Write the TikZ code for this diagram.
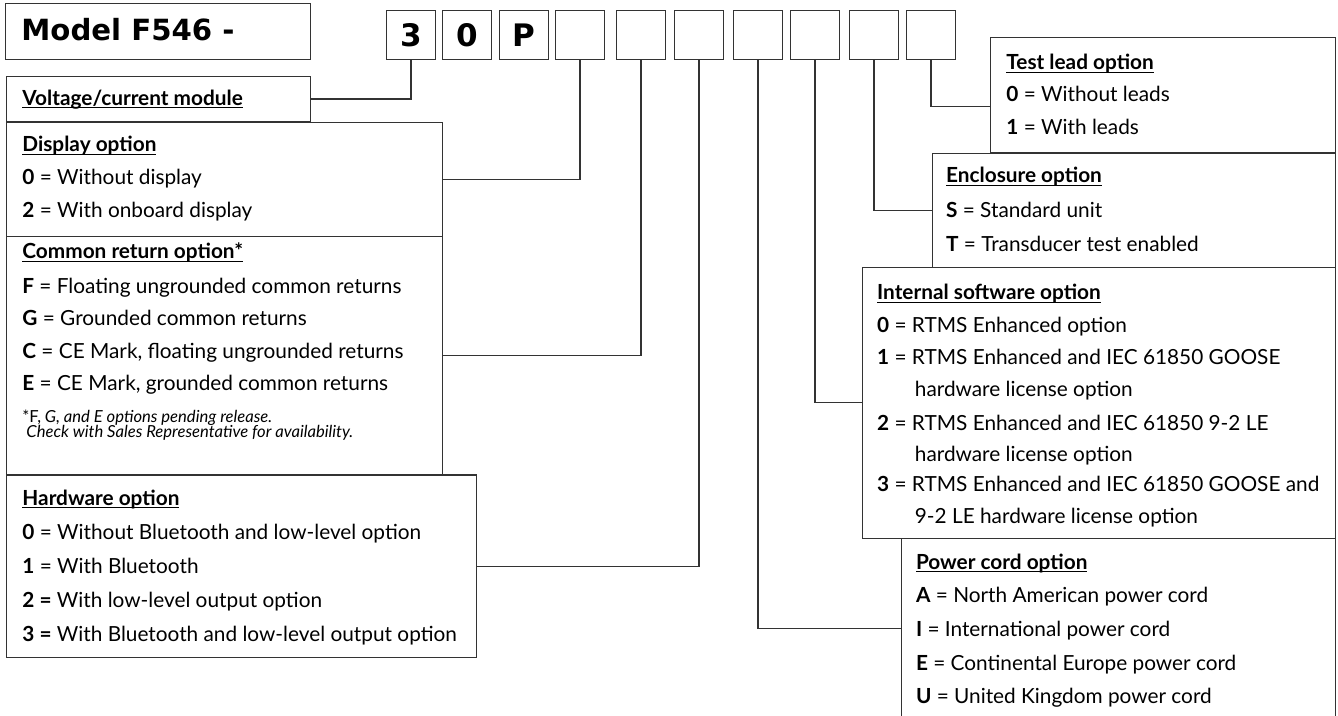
\documentclass[tikz,border=0pt]{standalone}
\usepackage{fontspec}
\setmainfont{Lato}
\newfontfamily\heavyfont{DejaVu Sans}
\usetikzlibrary{positioning}

\newcommand\headul[1]{\setbox0\hbox{#1}\rlap{\rule[-1.4pt]{\wd0}{0.6pt}}\box0}

\tikzset{
  frame/.style 2 args={draw=black!80, line width=0.6pt, inner sep=0pt, anchor=north west,
    minimum width=#1*0.5pt, minimum height=#2*0.5pt},
  digit/.style={draw=black!80, line width=0.6pt, inner sep=0pt, minimum width=24.2pt,
    minimum height=24.3pt, font=\heavyfont\bfseries\fontsize{15.5}{16}\selectfont},
  head/.style={anchor=base west, inner sep=0pt, font=\bfseries\fontsize{10.4}{12}\selectfont},
  item/.style={anchor=base west, inner sep=0pt, font=\fontsize{10.4}{12}\selectfont},
  note/.style={anchor=base west, inner sep=0pt, font=\itshape\fontsize{8.3}{10}\selectfont},
  link/.style={draw=black!80, line width=0.6pt}
}

\begin{document}
\begin{tikzpicture}[x=0.5pt,y=-0.5pt]
\useasboundingbox (0,0) rectangle (1338,716);

% title and code boxes
\node[frame={305}{56}] (title) at (5,3.3) {};
\node[anchor=base west, inner sep=0pt, font=\heavyfont\bfseries\fontsize{14.6}{16}\selectfont] (titletext) at (21,41) {Model F546 -};
\foreach \x/\t [count=\i] in {411/3,467/0,524/P,580/{},641/{},699/{},758/{},815/{},874/{},931/{}}
  \node[digit] (c\i) at (\x,35) {\t};

% left boxes
\node[frame={304.5}{45}] (volt) at (5.5,76) {};
\node[frame={436}{114.3}] (disp) at (5.5,121.7) {};
\node[frame={436}{238.3}] (comm) at (5.5,236) {};
\node[frame={470.5}{182.7}] (hard) at (5.5,474.3) {};

\node[head] (volth) at (22,105.5) {\headul{Voltage/current module}};

\node[head] (disph) at (22,152) {\headul{Display option}};
\foreach \y/\t [count=\i] in {185/{\textbf{0} = Without display},218/{\textbf{2} = With onboard display}}
  \node[item] (disp\i) at (22,\y) {\t};

\node[head] (commh) at (22,259) {\headul{Common return option*}};
\foreach \y/\t [count=\i] in {293.3/{\textbf{F} = Floating ungrounded common returns},
    325.5/{\textbf{G} = Grounded common returns},
    358.3/{\textbf{C} = CE Mark, floating ungrounded returns},
    391/{\textbf{E} = CE Mark, grounded common returns}}
  \node[item] (comm\i) at (22,\y) {\t};
\node[note] (note1) at (22,422.7) {{\upshape *F,} G, and E options pending release.};
\node[note] (note2) at (26,437.5) {Check with Sales Representative for availability.};

\node[head] (hardh) at (22,505) {\headul{Hardware option}};
\foreach \y/\t [count=\i] in {539.5/{\textbf{0} = Without Bluetooth and low-level option},
    573/{\textbf{1} = With Bluetooth},
    607.5/{\textbf{2 =} With low-level output option},
    641.5/{\textbf{3 =} With Bluetooth and low-level output option}}
  \node[item] (hard\i) at (22,\y) {\t};

% right boxes
\node[frame={345}{114.4}] (lead) at (990,37.3) {};
\node[frame={403.3}{114}] (encl) at (931.7,152.7) {};
\node[frame={473}{271}] (soft) at (862,266.7) {};
\begin{scope}
\clip (0,0) rectangle (1338,716);
\node[frame={434.4}{180}] (cord) at (900.6,537.7) {};
\end{scope}

\node[head] (leadh) at (1006,70) {\headul{Test lead option}};
\foreach \y/\t [count=\i] in {101.7/{\textbf{0} = Without leads},135/{\textbf{1} = With leads}}
  \node[item] (lead\i) at (1006,\y) {\t};

\node[head] (enclh) at (945.7,183) {\headul{Enclosure option}};
\foreach \y/\t [count=\i] in {218/{\textbf{S} = Standard unit},251.7/{\textbf{T} = Transducer test enabled}}
  \node[item] (encl\i) at (945.7,\y) {\t};

\node[head] (softh) at (876.8,300) {\headul{Internal software option}};
\foreach \y/\t [count=\i] in {332.7/{\textbf{0} = RTMS Enhanced option},
    365/{\textbf{1} = RTMS Enhanced and IEC 61850 GOOSE},
    430/{\textbf{2} = RTMS Enhanced and IEC 61850 9-2 LE},
    491.7/{\textbf{3} = RTMS Enhanced and IEC 61850 GOOSE and}}
  \node[item] (soft\i) at (876.8,\y) {\t};
\foreach \y/\t [count=\i] in {396.7/{hardware license option},461.7/{hardware license option},
    523.3/{9-2 LE hardware license option}}
  \node[item] (softc\i) at (914.5,\y) {\t};

\node[head] (cordh) at (915.6,569) {\headul{Power cord option}};
\foreach \y/\t [count=\i] in {602.7/{\textbf{A} = North American power cord},
    636.7/{\textbf{I} = International power cord},
    670/{\textbf{E} = Continental Europe power cord},
    703/{\textbf{U} = United Kingdom power cord}}
  \node[item] (cord\i) at (915.6,\y) {\t};

% leaders
\draw[link] (c1.south) |- (volt.east);
\draw[link] (c4.south) |- (disp.east);
\draw[link] (c5.south) |- (comm.east);
\draw[link] (c6.south) |- (hard.east);
\draw[link] (c7.south) |- (cord.west);
\draw[link] (c8.south) |- (soft.west);
\draw[link] (c9.south) |- (encl.west);
\draw[link] (c10.south) |- ([yshift=-5.75pt]lead.west);
\end{tikzpicture}
\end{document}
